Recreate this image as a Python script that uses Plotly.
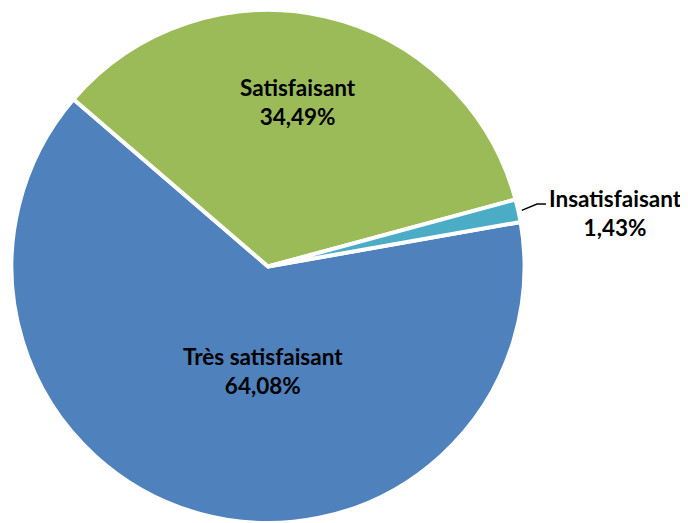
import math
import plotly.graph_objects as go

labels = ["Très satisfaisant", "Satisfaisant", "Insatisfaisant"]
values = [64.08, 34.49, 1.43]
colors = ["#4F81BD", "#9BBB59", "#4BACC6"]

OFF = 8  # page body margin: screen pixel = figure pixel + OFF
W, H = 688 - OFF, 523 - OFF
CX, CY, R = 268, 267, 257
ROTATION = 80  # start of first slice, degrees clockwise from 12 o'clock

FONT = dict(family="Lato, Arial, sans-serif", size=22.5, color="#000000")

# label anchor points (screen pixels), one per slice
label_pos = {
    "Très satisfaisant": (263, 371),
    "Satisfaisant": (298, 102),
    "Insatisfaisant": (615, 213),
}


def px(x, y):
    return (x - OFF) / W, 1 - (y - OFF) / H


def fmt_pct(v):
    return f"{v:.2f}".replace(".", ",") + "%"


fig = go.Figure()
fig.add_trace(
    go.Pie(
        labels=labels,
        values=values,
        sort=False,
        direction="clockwise",
        rotation=ROTATION,
        marker=dict(colors=colors, line=dict(color="white", width=4)),
        textinfo="none",
        hoverinfo="label+percent",
        showlegend=False,
        domain=dict(
            x=[px(CX - R, 0)[0], px(CX + R, 0)[0]],
            y=[max(0, px(0, CY + R)[1]), min(1, px(0, CY - R)[1])],
        ),
    )
)

for lab, val in zip(labels, values):
    x, y = px(*label_pos[lab])
    fig.add_annotation(
        x=x,
        y=y,
        xref="paper",
        yref="paper",
        text=f"<b>{lab}<br>{fmt_pct(val)}</b>",
        showarrow=False,
        font=FONT,
        xanchor="center",
        yanchor="middle",
    )

# leader line for the small slice
total = sum(values)
start = ROTATION + 360 * (values[0] + values[1]) / total
mid = math.radians(start + 360 * values[2] / total / 2)
x0, y0 = CX + (R + 3) * math.sin(mid), CY - (R + 3) * math.cos(mid)
x1, y1 = 537, 204
x2, y2 = 546, 204
pts = [px(x0, y0), px(x1, y1), px(x2, y2)]
fig.add_shape(
    type="path",
    xref="paper",
    yref="paper",
    path="M {} {} L {} {} L {} {}".format(*[c for p in pts for c in p]),
    line=dict(color="#000000", width=1.5),
)

fig.update_layout(
    width=W,
    height=H,
    margin=dict(l=0, r=0, t=0, b=0),
    paper_bgcolor="white",
    plot_bgcolor="white",
)

fig.write_html("out.html")
